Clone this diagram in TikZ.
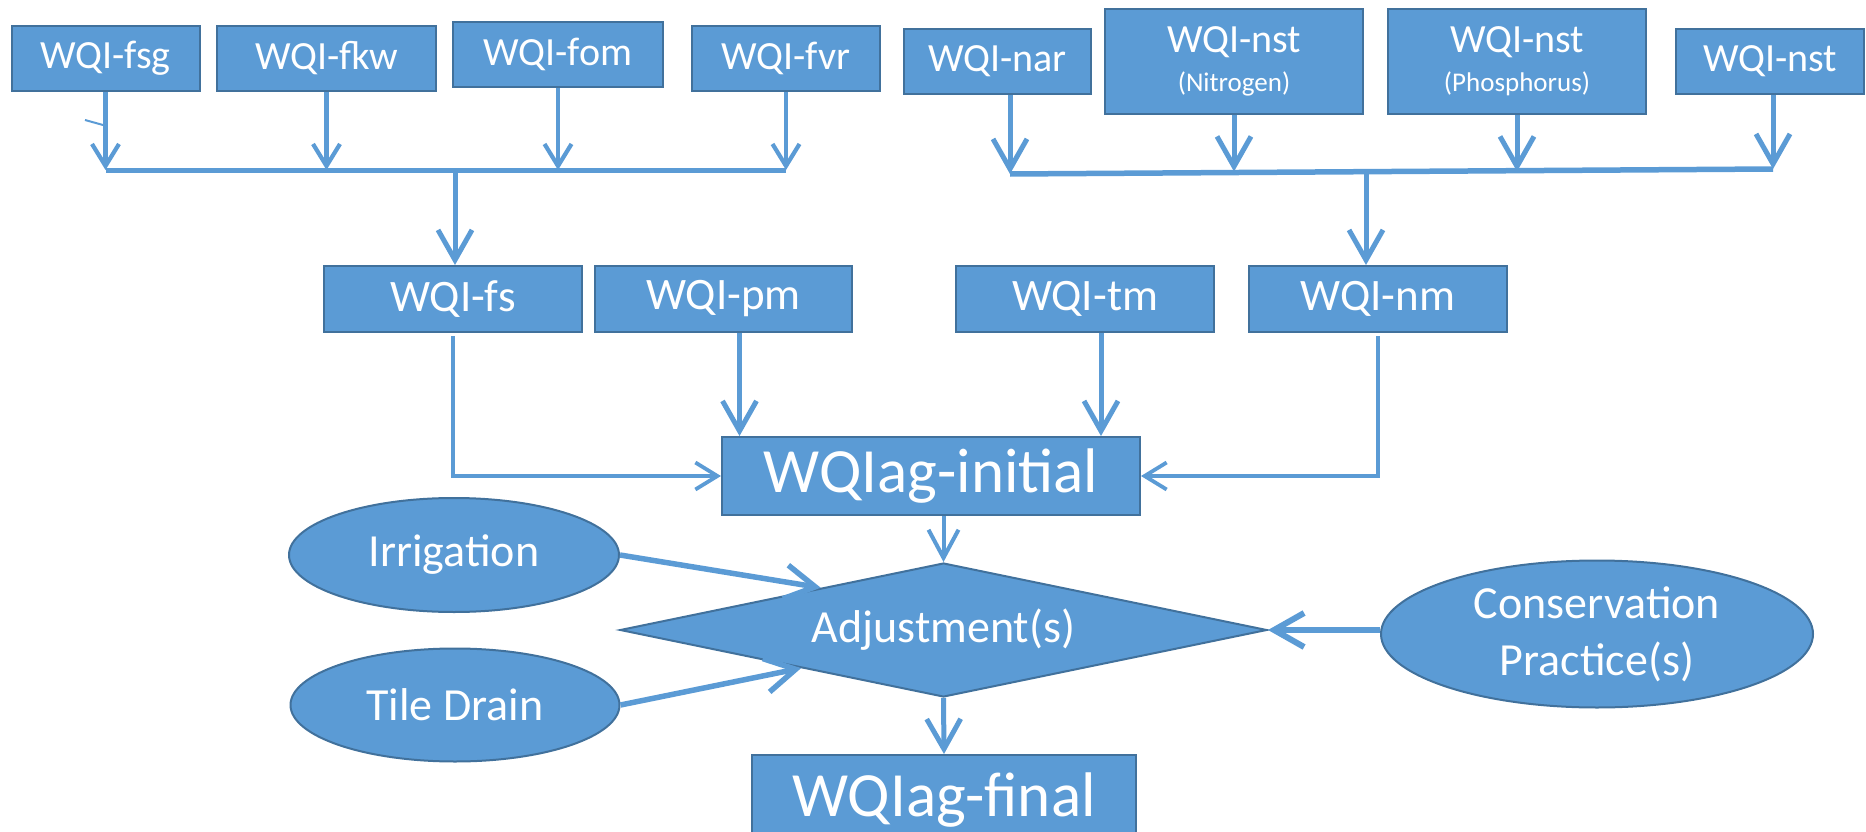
\documentclass[tikz,border=0pt]{standalone}
\usepackage{fontspec}
\setmainfont{Carlito}
\usetikzlibrary{shapes.geometric,arrows.meta}
\definecolor{boxblue}{RGB}{91,155,213}
\definecolor{boxedge}{RGB}{65,113,156}
\begin{document}
\begin{tikzpicture}[x=1pt,y=-1pt,
  box/.style={rectangle,fill=boxblue,draw=boxedge,line width=2pt,text=white,inner sep=0pt},
  oval/.style={ellipse,fill=boxblue,draw=boxedge,line width=2pt,text=white,inner sep=0pt},
  dia/.style={diamond,shape aspect=4.83,fill=boxblue,draw=boxedge,line width=2pt,text=white,inner sep=0pt},
  conn/.style={draw=boxblue,line width=5pt,-{Straight Barb[length=30pt,width=34pt]}},
  thinconn/.style={draw=boxblue,line width=4.2pt,-{Straight Barb[length=22pt,width=27pt]}},
  bar/.style={draw=boxblue,line width=5pt},
  ftop/.style={font=\fontsize{40}{48}\selectfont},
  fmid/.style={font=\fontsize{45}{54}\selectfont},
  fbig/.style={font=\fontsize{63}{75}\selectfont},
  foval/.style={font=\fontsize{46}{57}\selectfont}
]
\useasboundingbox (0,0) rectangle (1866,832);

% top left group
\node[box,ftop,minimum width=188pt,minimum height=65pt] (fsg) at (105.5,58.5) {WQI-fsg};
\node[box,ftop,minimum width=219pt,minimum height=65pt] (fkw) at (326.5,58.5) {WQI-fkw};
\node[box,ftop,minimum width=210pt,minimum height=65pt] (fom) at (558,54.5) {WQI-fom};
\node[box,ftop,minimum width=188pt,minimum height=65pt] (fvr) at (786,58.5) {WQI-fvr};

% top right group
\node[box,ftop,minimum width=187pt,minimum height=65pt] (nar) at (997.5,61.5) {WQI-nar};
\node[box,ftop,align=center,minimum width=258pt,minimum height=105pt] (nstn) at (1234,61.5)
  {WQI-nst\\[-9pt]{\fontsize{27}{32}\selectfont (Nitrogen)}};
\node[box,ftop,align=center,minimum width=258pt,minimum height=105pt] (nstp) at (1517,61.5)
  {WQI-nst\\[-9pt]{\fontsize{27}{32}\selectfont (Phosphorus)}};
\node[box,ftop,minimum width=188pt,minimum height=65pt] (nst) at (1770,61.5) {WQI-nst};

% middle row
\node[box,fmid,minimum width=258pt,minimum height=66pt] (fs) at (453,299) {WQI-fs};
\node[box,fmid,minimum width=257pt,minimum height=66pt] (pm) at (723.5,299) {WQI-pm};
\node[box,fmid,minimum width=258pt,minimum height=66pt] (tm) at (1085,299) {WQI-tm};
\node[box,fmid,minimum width=258pt,minimum height=66pt] (nm) at (1378,299) {WQI-nm};

% initial, adjustments, final
\node[box,fbig,minimum width=418pt,minimum height=78pt] (initial) at (931,476) {WQIag-initial};
\node[dia,foval,minimum width=647pt,minimum height=134pt] (adj) at (943.5,630) {Adjustment(s)};
\node[box,fbig,minimum width=384pt,minimum height=90pt] (final) at (944,800) {WQIag-final};

\node[oval,foval,minimum width=330pt,minimum height=114pt] (irr) at (454,555) {Irrigation};
\node[oval,foval,minimum width=329pt,minimum height=113pt] (tile) at (455,705) {Tile Drain};
\node[oval,foval,align=center,minimum width=432pt,minimum height=147pt] (cons) at (1597,634)
  {Conservation\\Practice(s)};

% bars
\coordinate (barL1) at (105.5,170);
\coordinate (barL2) at (786,170);
\coordinate (barLm) at (455,170);
\coordinate (barR1) at (1010,174);
\coordinate (barR2) at (1773,169);
\coordinate (barRm) at (1366,171.5);

\draw[bar] (barL1) -- (barL2);
\draw[thinconn] (fsg) -- (fsg |- barL1);
\draw[thinconn] (fkw) -- (fkw |- barL1);
\draw[thinconn] (fom) -- (fom |- barL1);
\draw[thinconn] (fvr) -- (fvr |- barL1);
\draw[boxblue,line width=2pt] (85,120) -- (103,125);
\draw[conn] (barLm) -- (barLm |- fs.north);

\draw[bar,line width=5.5pt] (barR1) -- (barR2);
\draw[conn] (nar.south -| barR1) -- (barR1);
\draw[conn] (nstn) -- (nstn |- barRm);
\draw[conn] (nstp) -- (nstp |- barRm);
\draw[conn] (nst.south -| barR2) -- (barR2);
\draw[conn] (barRm) -- (barRm |- nm.north);

% middle to initial
\draw[thinconn,line width=3.8pt] ([yshift=-3pt]fs.south) |- (initial.west);
\draw[thinconn,line width=3.8pt] ([yshift=-3pt]nm.south) |- (initial.east);
\draw[conn] ([xshift=16pt]pm.south) -- ([xshift=16pt]pm.south |- initial.north);
\draw[conn] ([xshift=16pt]tm.south) -- ([xshift=16pt]tm.south |- initial.north);

% lower part
\draw[conn,line width=4pt,-{Straight Barb[length=28pt,width=30pt]}] (initial.south -| adj.north) -- (adj.north);
\draw[conn] (adj.south) -- (final.north);
\draw[conn,line width=5.5pt] (irr.east) -- (adj.161.5);
\draw[conn,line width=5.5pt] (tile.east) -- (adj.195);
\draw[conn,line width=6pt] (cons.west |- adj.east) -- (adj.east);
\end{tikzpicture}
\end{document}
